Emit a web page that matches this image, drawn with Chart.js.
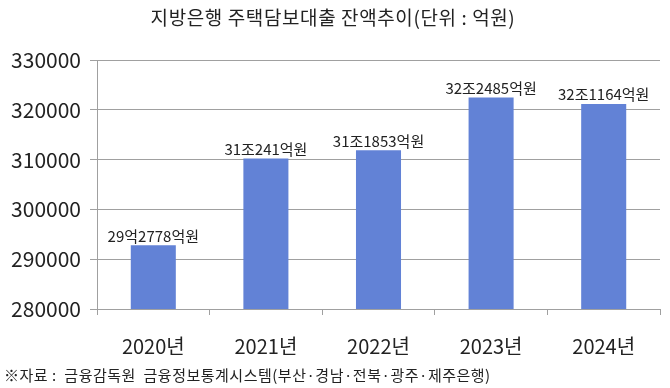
<!DOCTYPE html>
<html>
<head>
<meta charset="utf-8">
<script src="https://cdn.jsdelivr.net/npm/chart.js@4/dist/chart.umd.min.js"></script>
<style>
  html, body { margin: 0; padding: 0; background: #fff; }
  #wrap { width: 670px; height: 388px; position: relative; }
</style>
</head>
<body>
<div id="wrap"><canvas id="chart" width="670" height="388"></canvas></div>
<script>
// data
const years = ["2020년", "2021년", "2022년", "2023년", "2024년"];
const balances = [292778, 310241, 311853, 322485, 321164];
const barLabels = ["29억2778억원", "31조241억원", "31조1853억원", "32조2485억원", "32조1164억원"];
const yTicks = [280000, 290000, 300000, 310000, 320000, 330000];

const titleText = "지방은행 주택담보대출 잔액추이(단위 : 억원)";
const sourceText = "※자료 :  금융감독원  금융정보통계시스템(부산·경남·전북·광주·제주은행)";

const fontFamily = "'Noto Sans CJK KR', 'Noto Sans', sans-serif";

// title, footer and value labels drawn straight on the canvas
const textPlugin = {
    id: 'textPlugin',
    afterDatasetsDraw(chart) {
        let ctx = chart.ctx;
        ctx.save();
        ctx.fillStyle = '#222';
        ctx.textBaseline = 'middle';

        ctx.font = "19px " + fontFamily;
        ctx.textAlign = 'center';
        ctx.letterSpacing = '0.6px';
        ctx.fillText(titleText, 333, 18);

        ctx.font = "15px " + fontFamily;
        ctx.textAlign = 'left';
        ctx.letterSpacing = '0.5px';
        ctx.fillText(sourceText, 4, 375);
        ctx.letterSpacing = '0px';

        let meta = chart.getDatasetMeta(0);
        ctx.textAlign = 'center';
        ctx.textBaseline = 'bottom';
        ctx.font = "15px " + fontFamily;
        meta.data.forEach((bar, i) => {
            ctx.fillText(barLabels[i], bar.x, bar.y - 2);
        });
        ctx.restore();
    }
};

new Chart(document.getElementById('chart'), {
    type: 'bar',
    data: {
        labels: years,
        datasets: [{
            data: balances,
            backgroundColor: '#6282d6',
            categoryPercentage: 1.0,
            barPercentage: 0.4
        }]
    },
    options: {
        responsive: false,
        animation: false,
        layout: { padding: { top: 60, right: 10, left: 0, bottom: 0 } },
        plugins: {
            legend: { display: false },
            tooltip: { enabled: false }
        },
        scales: {
            x: {
                grid: {
                    display: true,
                    drawOnChartArea: false,
                    drawTicks: true,
                    tickLength: 6,
                    color: '#a0a0a0',
                    offset: true
                },
                border: { color: '#a0a0a0', width: 1 },
                ticks: {
                    color: '#222',
                    padding: 19,
                    font: { family: fontFamily, size: 20 }
                },
                afterFit(scale) { scale.height = 79; }
            },
            y: {
                min: 280000,
                max: 330000,
                afterBuildTicks(scale) {
                    scale.ticks = yTicks.map(v => ({ value: v }));
                },
                grid: {
                    color: '#a0a0a0',
                    tickLength: 7,
                    lineWidth: 1
                },
                border: { color: '#a0a0a0', width: 1 },
                ticks: {
                    color: '#222',
                    padding: 9,
                    font: { family: fontFamily, size: 21 },
                    callback: v => String(v)
                },
                afterFit(scale) { scale.width = 97; }
            }
        }
    },
    plugins: [textPlugin]
});
</script>
</body>
</html>
